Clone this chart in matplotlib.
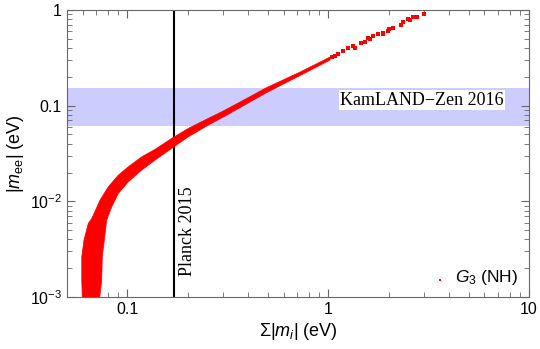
import numpy as np
import matplotlib.pyplot as plt
from matplotlib.ticker import LogLocator, FixedLocator, FixedFormatter, NullFormatter

plt.rcParams['font.family'] = ['Liberation Sans', 'DejaVu Sans']
plt.rcParams['mathtext.fontset'] = 'custom'
plt.rcParams['mathtext.rm'] = 'Liberation Sans'
plt.rcParams['mathtext.it'] = 'Liberation Sans:italic'

# allowed region (dense part), upper-left edge from bottom to top
upper_x = [0.0597, 0.0593, 0.0593, 0.0608, 0.0639, 0.0665, 0.0731, 0.0804, 0.0902,
           0.1011, 0.1179, 0.1373, 0.1663, 0.2012, 0.2530, 0.2951, 0.3640, 0.4943,
           0.7244, 1.022]
upper_y = [0.0009, 0.0015, 0.00263, 0.00393, 0.00587, 0.00662, 0.01029, 0.01418, 0.01879,
           0.02296, 0.02920, 0.03491, 0.04549, 0.05790, 0.07367, 0.08633, 0.1091, 0.1546,
           0.2246, 0.3224]
# lower-right edge from top to bottom
lower_x = [1.022, 0.7244, 0.4943, 0.3640, 0.3065, 0.2530, 0.2012, 0.1663,
           0.1373, 0.1179, 0.1011, 0.0902, 0.0836, 0.0789, 0.0768, 0.0750, 0.0745, 0.0725]
lower_y = [0.2999, 0.2065, 0.1371, 0.0955, 0.0778, 0.06266, 0.04727, 0.03576,
           0.02698, 0.02121, 0.01600, 0.01210, 0.00876, 0.00636, 0.00393, 0.00263, 0.0015,
           0.0009]

# sparse points at large masses
pts_x = [1.042, 1.082, 1.124, 1.190, 1.260, 1.335, 1.361, 1.453, 1.526, 1.585, 1.616,
         1.679, 1.777, 1.870, 1.883, 1.994, 2.017, 2.097, 2.298, 2.351, 2.507, 2.557,
         2.637, 2.761, 3.002]
pts_y = [0.325, 0.330, 0.347, 0.375, 0.398, 0.420, 0.403, 0.455, 0.466, 0.506, 0.497,
         0.538, 0.561, 0.571, 0.557, 0.607, 0.628, 0.653, 0.697, 0.749, 0.805, 0.786,
         0.851, 0.851, 0.908]
stray_x = [3.6]
stray_y = [0.00152]

kamland = [0.061, 0.154]
planck = 0.17

fig = plt.figure(figsize=(5.4, 3.49), dpi=100)
ax = fig.add_axes([0.1239, 0.149, 0.8557, 0.8223])
ax.set_xscale('log')
ax.set_yscale('log')

ax.axhspan(kamland[0], kamland[1], color='#ccccff', lw=0, zorder=1)
ax.axvline(planck, color='black', lw=1.5, zorder=2)
ax.fill(upper_x + lower_x, upper_y + lower_y, color='red', lw=0.5, ec='red', zorder=3)
ax.scatter(pts_x, pts_y, s=5, marker='s', color='red', lw=0, zorder=3)
ax.scatter(stray_x, stray_y, s=0.8, marker='s', color='red', lw=0, zorder=3)

ax.set_xlim(0.05, 10)
ax.set_ylim(1e-3, 1)

ax.xaxis.set_major_locator(FixedLocator([0.1, 1, 10]))
ax.xaxis.set_major_formatter(FixedFormatter(['0.1', '1', '10']))
ax.xaxis.set_minor_locator(LogLocator(base=10, subs=np.arange(2, 10), numticks=20))
ax.xaxis.set_minor_formatter(NullFormatter())
ax.yaxis.set_major_locator(FixedLocator([1e-3, 1e-2, 0.1, 1]))
ax.yaxis.set_major_formatter(FixedFormatter([r'$10^{-3}$', r'$10^{-2}$', '0.1', '1']))
ax.yaxis.set_minor_locator(LogLocator(base=10, subs=np.arange(2, 10), numticks=20))
ax.yaxis.set_minor_formatter(NullFormatter())

for s in ax.spines.values():
    s.set_color('#666666')
ax.tick_params(which='both', direction='in', top=True, right=True, color='#666666',
               labelsize=11.5)
ax.tick_params(which='major', length=6, width=0.8)
ax.tick_params(which='minor', length=3.5, width=0.6)

ax.set_xlabel(r'$\Sigma|m_i|$ (eV)', fontsize=13, labelpad=3)
ax.set_ylabel(r'$|m_{\rm ee}|$ (eV)', fontsize=13, labelpad=3)

ax.text(0.1815, 0.00166, 'Planck 2015', rotation=90, ha='left', va='bottom',
        family='Liberation Serif', fontsize=13, zorder=5)
ax.text(2.93, 0.1145, 'KamLAND\u2212Zen 2016', ha='center', va='center',
        family='Liberation Serif', fontsize=13, zorder=5,
        bbox=dict(facecolor='white', edgecolor='none', pad=1))
ax.text(8.8, 0.0016, r'$G_3$ (NH)', ha='right', va='center', fontsize=12.5, zorder=5)

fig.savefig('out.png', dpi=100)
